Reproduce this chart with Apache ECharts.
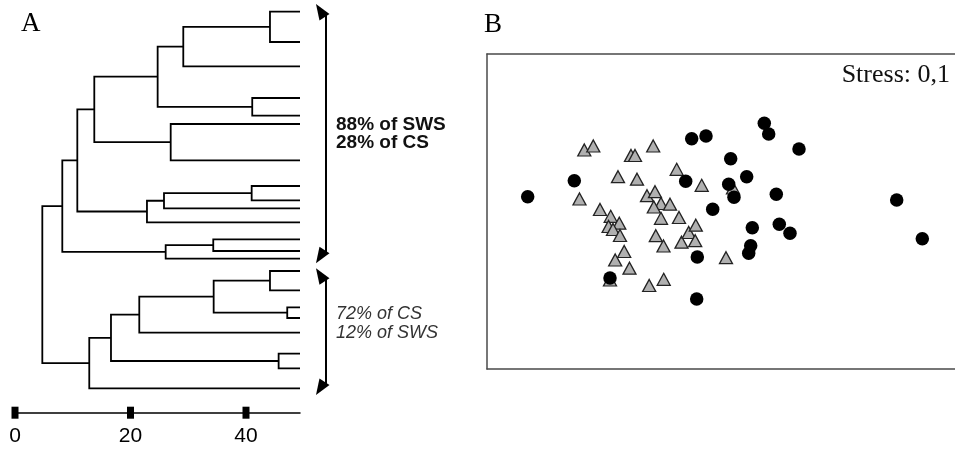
<!DOCTYPE html>
<html><head><meta charset="utf-8">
<script src="https://cdn.jsdelivr.net/npm/echarts@6/dist/echarts.min.js"></script>
<style>html,body{margin:0;padding:0;background:#fff}#c{width:955px;height:450px}</style>
</head><body><div id="c"></div>
<script>
// ---- Panel A: dendrogram ----
// vertical position of each leaf (top to bottom)
const leafPositions = [11.7, 42, 66.3, 98, 115.7, 124, 160.3, 186, 200.3, 208.3, 222.3,
  239.3, 251, 258.7, 271, 290.3, 307.3, 318, 332.7, 353.7, 368.3, 388.3];
// distance of the leaves on the scale
const leafDistance = 49.35;
// merges: [childA, childB, distance]; leaves 0..21, merged nodes numbered from 22
const merges = [
  [0, 1, 44.15], [22, 2, 29.14], [3, 4, 41.08], [23, 24, 24.7], [5, 6, 26.96],
  [25, 26, 13.73], [7, 8, 40.98], [28, 9, 25.8], [29, 10, 22.85], [27, 30, 10.79],
  [11, 12, 34.33], [32, 13, 26.09], [31, 33, 8.19], [14, 15, 44.15], [16, 17, 47.14],
  [35, 36, 34.4], [37, 18, 21.52], [19, 20, 45.65], [38, 39, 16.62], [40, 21, 12.86],
  [34, 41, 4.73]
];
const scaleTicks = [0, 20, 40];
const bracketX = 53.85;
const groupBrackets = [[4, 263.3], [268.3, 395]];
const groupLabelsTop = ['88% of SWS', '28% of CS'];
const groupLabelsBottom = ['72% of CS', '12% of SWS'];

// ---- Panel B: ordination ----
const circleSites = [
  [40.7, 142.7], [87.3, 126.7], [204.7, 84.7], [219, 82], [198.7, 127.3], [225.7, 155.3],
  [243.7, 104.7], [241.7, 130.3], [247, 143.3], [259.7, 122.7], [277.3, 69.3], [281.7, 80],
  [312, 95], [289.3, 140.3], [265.3, 173.7], [292.3, 170.3], [303, 179.3], [263.7, 191.7],
  [261.7, 199.3], [210.3, 203], [123, 224], [209.7, 245], [409.7, 146], [435.3, 184.7]
];
const triangleSites = [
  [97.3, 96], [106.3, 92], [144, 101.5], [148, 101.5], [166.2, 92], [189.7, 115.3],
  [131, 122.7], [150, 125.2], [214.7, 131.3], [92.5, 145], [160, 141.7], [168, 137.7],
  [174, 149.5], [183, 150.2], [166.8, 153], [113, 155.5], [123.7, 162.3], [174, 164.3],
  [192, 163.5], [121.6, 172.5], [132.3, 169.2], [126, 175.5], [133, 181.5], [168.8, 181.7],
  [176.5, 192], [194.5, 188.2], [201.7, 178.5], [208.8, 171.2], [208.2, 186.7], [137.2, 197.5],
  [128.2, 206], [142.5, 214.2], [162.2, 231.5], [176.7, 225.3], [239, 203.7], [246, 134],
  [123, 226]
];
const stressText = 'Stress: 0,1';

// build dendrogram segments
const nodeY = leafPositions.slice();
const nodeH = leafPositions.map(() => leafDistance);
const dendroSegments = merges.map(([a, b, h]) => {
  const seg = [h, nodeY[a], nodeY[b], nodeH[a], nodeH[b]];
  nodeY.push((nodeY[a] + nodeY[b]) / 2);
  nodeH.push(h);
  return seg;
});

const dendroYMax = 412.7;
const frameLine = {show: true, onZero: false, lineStyle: {color: '#4a4a4a', width: 1.5}};
const bareAxis = {axisTick: {show: false}, axisLabel: {show: false}, splitLine: {show: false}};

const chart = echarts.init(document.getElementById('c'), null, {renderer: 'canvas'});
chart.setOption({
  animation: false,
  backgroundColor: '#fff',
  grid: [
    {left: 15, top: 0, width: 285, height: dendroYMax},
    {left: 487, top: 54, width: 468, height: 315}
  ],
  xAxis: [
    {gridIndex: 0, type: 'value', min: 0, max: leafDistance, interval: 20,
      axisLine: {show: true, onZero: false, lineStyle: {color: '#000', width: 1.5}},
      axisTick: {show: false}, splitLine: {show: false},
      axisLabel: {fontSize: 21, color: '#000', margin: 13, fontFamily: '"Liberation Sans", Arial, sans-serif', showMaxLabel: false}},
    Object.assign({gridIndex: 1, type: 'value', min: 0, max: 468, position: 'bottom', axisLine: frameLine}, bareAxis),
    Object.assign({gridIndex: 1, type: 'value', min: 0, max: 468, position: 'top', axisLine: frameLine}, bareAxis)
  ],
  yAxis: [
    {gridIndex: 0, type: 'value', min: 0, max: dendroYMax, inverse: true, show: false, splitLine: {show: false}},
    Object.assign({gridIndex: 1, type: 'value', min: 0, max: 315, inverse: true, position: 'left', axisLine: frameLine}, bareAxis)
  ],
  series: [
    {
      type: 'custom', xAxisIndex: 0, yAxisIndex: 0, clip: false, silent: true,
      data: dendroSegments,
      encode: {x: [0, 3, 4], y: [1, 2]},
      renderItem: function (params, api) {
        const h = api.value(0), yA = api.value(1), yB = api.value(2), hA = api.value(3), hB = api.value(4);
        const pts = [api.coord([hA, yA]), api.coord([h, yA]), api.coord([h, yB]), api.coord([hB, yB])];
        return {type: 'polyline', shape: {points: pts}, style: {stroke: '#000', lineWidth: 1.8, fill: null, lineJoin: 'miter'}};
      }
    },
    {
      type: 'scatter', xAxisIndex: 0, yAxisIndex: 0, clip: false, silent: true,
      symbol: 'rect', symbolSize: [7, 12], itemStyle: {color: '#000', opacity: 1},
      data: scaleTicks.map(v => [v, dendroYMax])
    },
    {
      type: 'custom', xAxisIndex: 0, yAxisIndex: 0, clip: false, silent: true,
      data: groupBrackets.map(b => [bracketX, b[0], b[1]]),
      encode: {x: 0, y: [1, 2]},
      renderItem: function (params, api) {
        const t = api.coord([api.value(0), api.value(1)]);
        const b = api.coord([api.value(0), api.value(2)]);
        const x = t[0];
        return {type: 'group', children: [
          {type: 'line', shape: {x1: x, y1: t[1] + 10, x2: x, y2: b[1] - 10}, style: {stroke: '#000', lineWidth: 2}},
          {type: 'polygon', shape: {points: [[x - 10, t[1]], [x + 3.5, t[1] + 10], [x - 6.5, t[1] + 16.5]]}, style: {fill: '#000'}},
          {type: 'polygon', shape: {points: [[x - 10, b[1]], [x + 3.5, b[1] - 10], [x - 6.5, b[1] - 16.5]]}, style: {fill: '#000'}}
        ]};
      }
    },
    {
      type: 'scatter', xAxisIndex: 1, yAxisIndex: 1, silent: true, z: 3,
      symbol: 'triangle', symbolSize: [13, 12],
      itemStyle: {color: '#b0b0b0', borderColor: '#222', borderWidth: 1.3, opacity: 1},
      data: triangleSites
    },
    {
      type: 'scatter', xAxisIndex: 1, yAxisIndex: 1, silent: true, z: 4,
      symbol: 'circle', symbolSize: 13.5,
      itemStyle: {color: '#000', opacity: 1},
      data: circleSites
    }
  ],
  graphic: [
    {type: 'text', x: 21, y: 24.2, style: {text: 'A', font: '27px "Liberation Serif", "Times New Roman", serif', fill: '#000', textVerticalAlign: 'middle'}},
    {type: 'text', x: 484, y: 24.5, style: {text: 'B', font: '27px "Liberation Serif", "Times New Roman", serif', fill: '#000', textVerticalAlign: 'middle'}},
    {type: 'text', x: 336, y: 124.5, style: {text: groupLabelsTop[0], font: 'bold 19px "Liberation Sans", Arial, sans-serif', fill: '#111', textVerticalAlign: 'middle'}},
    {type: 'text', x: 336, y: 143, style: {text: groupLabelsTop[1], font: 'bold 19px "Liberation Sans", Arial, sans-serif', fill: '#111', textVerticalAlign: 'middle'}},
    {type: 'text', x: 336, y: 313.7, style: {text: groupLabelsBottom[0], font: 'italic 18px "Liberation Sans", Arial, sans-serif', fill: '#333', textVerticalAlign: 'middle'}},
    {type: 'text', x: 336, y: 332.5, style: {text: groupLabelsBottom[1], font: 'italic 18px "Liberation Sans", Arial, sans-serif', fill: '#333', textVerticalAlign: 'middle'}},
    {type: 'text', x: 950, y: 75, style: {text: stressText, font: '26px "Liberation Serif", "Times New Roman", serif', fill: '#111', textAlign: 'right', textVerticalAlign: 'middle'}}
  ]
});
</script>
</body></html>
